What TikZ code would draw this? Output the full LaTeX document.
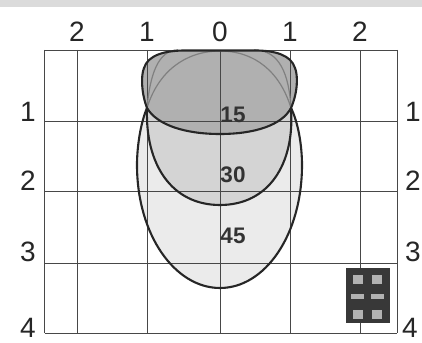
\documentclass[tikz,border=0pt]{standalone}
\usepackage{fontspec}
\setmainfont{Liberation Sans}
\tikzset{
 gridl/.style={draw=black!72,line width=0.9pt},
 outl/.style={draw=black!85,line width=2.1pt},
 axisl/.style={font=\fontsize{28}{28}\selectfont,text=black!85,inner sep=0pt},
 vall/.style={font=\fontsize{22.5}{23}\selectfont\bfseries,text=black!80,inner sep=0pt},
 led/.style={fill=black!30,draw=none}
}
\begin{document}
\begin{tikzpicture}[x=1pt,y=-1pt]
\useasboundingbox (0,0) rectangle (422,342);
\fill[black!14] (0,0) rectangle (422,7);
\def\pA{(147,108) .. controls (141,122) and (137,145) .. (137,165) .. controls (137,235) and (175,288) .. (220,288) .. controls (265,288) and (302,235) .. (302,165) .. controls (302,145) and (298,122) .. (291,108)}
\def\pB{(147,108) .. controls (145,165) and (172,205) .. (220,205) .. controls (268,205) and (295,165) .. (291,108)}
\def\pC{(147,108) .. controls (141,92) and (141,75) .. (144,68) .. controls (148,55) and (165,50.5) .. (185,50.5) -- (255,50.5) .. controls (275,50.5) and (291,55) .. (295,68) .. controls (298,75) and (298,92) .. (291,108) .. controls (282,125) and (255,134) .. (220,134) .. controls (185,134) and (157,125) .. (147,108) -- cycle}
\fill[black!8] \pA -- cycle;
\fill[black!17] \pB -- cycle;
\fill[black!31] \pC;
\foreach \x in {44.5,77,147,220,290,360,397}{\draw[gridl] (\x,50) -- (\x,333);}
\foreach \y in {50,121,191,263,333}{\draw[gridl] (44.5,\y) -- (397,\y);}
\draw[black!50,line width=1.2pt] (147,108) .. controls (158,72) and (185,51) .. (220,51) .. controls (255,51) and (280,72) .. (291,108);
\draw[black!50,line width=1.2pt] (147,108) .. controls (150,75) and (158,50) .. (178,50);
\draw[black!50,line width=1.2pt] (291,108) .. controls (289,75) and (280,50) .. (254,50);
\draw[outl] \pA;
\draw[outl] \pB;
\draw[outl] \pC;
\fill[black!78] (346,268) rectangle (390,323);
\foreach \x/\y/\w/\h in {353/275/10/9,372/275/10/9,351/294/13/5,371/294/13/5,353/310/10/9,372/310/10/9}{\fill[led] (\x,\y) rectangle ++(\w,\h);}
\node[axisl] (t1) at (77,31.5) {2};
\node[axisl] (t2) at (147,31.5) {1};
\node[axisl] (t3) at (220,31.5) {0};
\node[axisl] (t4) at (290,31.5) {1};
\node[axisl] (t5) at (360,31.5) {2};
\node[axisl] (l1) at (28,112) {1};
\node[axisl] (l2) at (28,181) {2};
\node[axisl] (l3) at (28,252) {3};
\node[axisl] (l4) at (28,328) {4};
\node[axisl] (r1) at (413,112) {1};
\node[axisl] (r2) at (413,181) {2};
\node[axisl] (r3) at (413,252) {3};
\node[axisl] (r4) at (410,328) {4};
\node[vall] (v1) at (233,115) {15};
\node[vall] (v2) at (233,175) {30};
\node[vall] (v3) at (233,236) {45};
\end{tikzpicture}
\end{document}
